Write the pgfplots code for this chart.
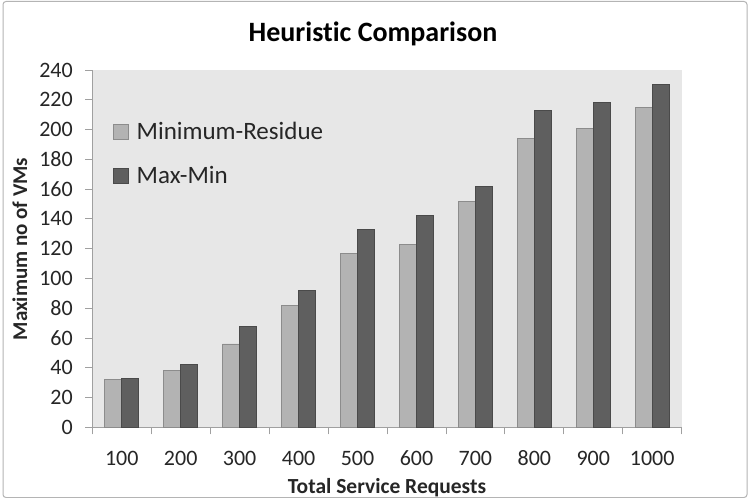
\documentclass[border=0pt]{standalone}
\usepackage{pgfplots}
\pgfplotsset{compat=1.18}
\usepackage{fontspec}
\setmainfont{Carlito}[Ligatures=NoCommon]
\definecolor{plotbg}{HTML}{E7E7E7}
\definecolor{lightbar}{HTML}{B3B3B3}
\definecolor{lightedge}{HTML}{8C8C8C}
\definecolor{darkbar}{HTML}{5F5F5F}
\definecolor{darkedge}{HTML}{4A4A4A}
\definecolor{axisgray}{HTML}{A0A0A0}
\definecolor{textgray}{HTML}{262626}
\definecolor{framegray}{HTML}{B4B4B4}
\begin{document}
\begin{tikzpicture}
\path[use as bounding box] (0,0) rectangle (754bp,498bp);
\fill[white] (0,0) rectangle (754bp,498bp);
\draw[framegray, line width=1bp, rounded corners=3bp] (3bp,0.5bp) rectangle (747bp,496.5bp);
\begin{axis}[
  at={(92.3bp,70.7bp)}, anchor=south west,
  scale only axis, width=589.4bp, height=357.3bp,
  ybar=0pt, bar width=17bp,
  xmin=-0.5, xmax=9.5, ymin=0, ymax=240,
  axis x line*=bottom, axis y line*=left,
  axis line style={axisgray, line width=0.8bp, -},
  axis background/.style={fill=plotbg},
  xtick={0,...,9},
  xticklabels={100,200,300,400,500,600,700,800,900,1000},
  major x tick style={draw=none},
  minor xtick={-0.5,0.5,...,9.5},
  ytick={0,20,...,240},
  tick align=outside,
  major tick length=7bp, minor tick length=7bp,
  every tick/.style={axisgray, line width=0.8bp},
  tick label style={font=\fontsize{22bp}{26bp}\selectfont, text=textgray},
  /pgf/number format/assume math mode=true,
  xticklabel style={anchor=base, yshift=-31bp},
  yticklabel style={anchor=east, xshift=-9bp},
  legend style={at={(0.030,0.861)}, anchor=north west, draw=none, fill=none,
    font=\fontsize{25bp}{29bp}\selectfont, text=textgray,
    nodes={inner sep=0pt, text height=18bp, text depth=6bp, anchor=west},
    row sep=19.5bp,
    /tikz/every odd column/.append style={column sep=7.7bp}},
  legend image code/.code={\draw[#1] (0bp,-6bp) rectangle (15bp,9bp);},
  clip=false,
]
\addplot[fill=lightbar, draw=lightedge, line width=0.8bp] coordinates
  {(0,32) (1,38) (2,56) (3,82) (4,117) (5,123) (6,152) (7,194) (8,201) (9,215)};
\addplot[fill=darkbar, draw=darkedge, line width=0.8bp] coordinates
  {(0,33) (1,42) (2,68) (3,92) (4,133) (5,142) (6,162) (7,213) (8,218) (9,230)};
\legend{Minimum-Residue, Max-Min}
\end{axis}
\node[anchor=base, font=\fontsize{28bp}{33bp}\selectfont\bfseries] at (373bp,456bp) {Heuristic Comparison};
\node[anchor=base, rotate=90, font=\fontsize{21bp}{25bp}\selectfont\bfseries, text=textgray] at (27bp,249bp) {Maximum no of VMs};
\node[anchor=base, font=\fontsize{21.5bp}{25bp}\selectfont\bfseries, text=textgray] at (387bp,5bp) {Total Service Requests};
\end{tikzpicture}
\end{document}
